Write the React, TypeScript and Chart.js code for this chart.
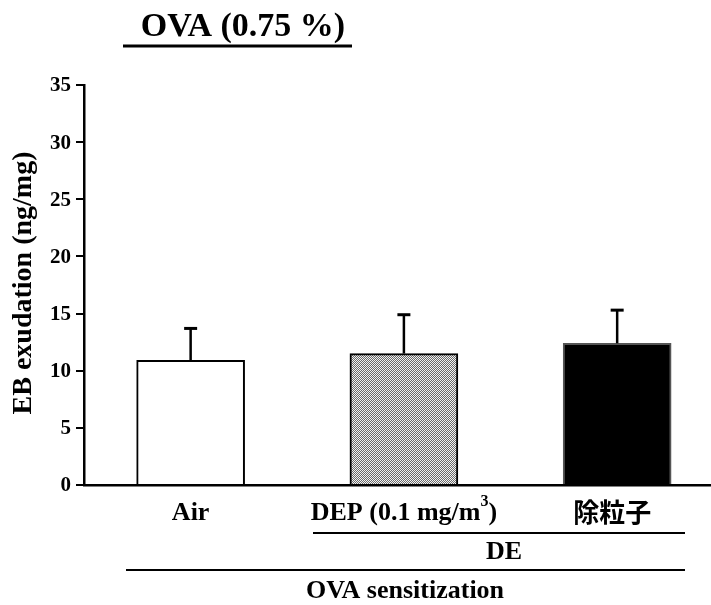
import React, { useEffect, useRef } from "react";
import { Chart, registerables } from "chart.js";

Chart.register(...registerables);

const categories = ["Air", "DEP (0.1 mg/m", "除粒子"];
const positions = [0, 1, 2];
const means = [10.9, 11.5, 12.4];
const sems = [2.8, 3.4, 2.9];
const yTicks = [0, 5, 10, 15, 20, 25, 30, 35];

const SERIF = '"Liberation Serif", "Times New Roman", serif';
const CJK = '"Noto Sans CJK JP", "Noto Sans CJK SC", sans-serif';

function makeHatch(): CanvasPattern | string {
  const c = document.createElement("canvas");
  c.width = 4;
  c.height = 4;
  const g = c.getContext("2d");
  if (!g) return "#aaaaaa";
  g.fillStyle = "#f2f2f2";
  g.fillRect(0, 0, 4, 4);
  g.fillStyle = "#6a6a6a";
  for (let i = 0; i < 4; i++) {
    g.fillRect(i, 3 - i, 1, 1);
    g.fillRect((i + 2) % 4, 3 - i, 1, 1);
  }
  const p = g.createPattern(c, "repeat");
  return p || "#aaaaaa";
}

function sText(
  ctx: CanvasRenderingContext2D,
  text: string,
  x: number,
  y: number,
  font: string,
  align: CanvasTextAlign
) {
  ctx.save();
  ctx.font = font;
  ctx.textAlign = align;
  ctx.textBaseline = "middle";
  ctx.fillText(text, x, y);
  ctx.restore();
}

const decorPlugin = {
  id: "decor",
  afterDatasetsDraw(chart: any) {
    const ctx = chart.ctx as CanvasRenderingContext2D;
    const xs = chart.scales.x;
    const ys = chart.scales.y;
    const area = chart.chartArea;
    ctx.save();
    ctx.strokeStyle = "#000";
    ctx.fillStyle = "#000";
    // error bars
    for (let i = 0; i < means.length; i++) {
      const x = xs.getPixelForValue(positions[i]);
      const yb = ys.getPixelForValue(means[i]);
      const yt = ys.getPixelForValue(means[i] + sems[i]);
      ctx.lineWidth = 2.5;
      ctx.beginPath();
      ctx.moveTo(x, yb);
      ctx.lineTo(x, yt);
      ctx.stroke();
      ctx.lineWidth = 3;
      ctx.beginPath();
      ctx.moveTo(x - 6.5, yt);
      ctx.lineTo(x + 6.5, yt);
      ctx.stroke();
    }
    // y tick labels
    for (const v of yTicks) {
      sText(ctx, String(v), 71, ys.getPixelForValue(v) + 1, "bold 21px " + SERIF, "right");
    }
    // title
    sText(ctx, "OVA (0.75 %)", 243, 27, "bold 34px " + SERIF, "center");
    ctx.lineWidth = 3;
    ctx.beginPath();
    ctx.moveTo(123, 46);
    ctx.lineTo(352, 46);
    ctx.stroke();
    // y title
    ctx.save();
    ctx.translate(24, 283);
    ctx.rotate(-Math.PI / 2);
    sText(ctx, "EB exudation (ng/mg)", 0, 0, "bold 28px " + SERIF, "center");
    ctx.restore();
    // x labels
    const ly = area.bottom + 28;
    const F = "bold 26px " + SERIF;
    const FS = "bold 16px " + SERIF;
    sText(ctx, categories[0], xs.getPixelForValue(positions[0]), ly, F, "center");
    // DEP with superscript
    const main = categories[1];
    ctx.font = F;
    const wMain = ctx.measureText(main).width;
    const wClose = ctx.measureText(")").width;
    ctx.font = FS;
    const wSup = ctx.measureText("3").width;
    const total = wMain + wSup + wClose;
    let sx = xs.getPixelForValue(positions[1]) - total / 2;
    sText(ctx, main, sx, ly, F, "left");
    sx += wMain;
    sText(ctx, "3", sx, ly - 11, FS, "left");
    sx += wSup;
    sText(ctx, ")", sx, ly, F, "left");
    sText(ctx, categories[2], xs.getPixelForValue(positions[2]) - 5, ly - 1, "bold 26px " + CJK, "center");
    // group lines
    ctx.lineWidth = 2;
    ctx.beginPath();
    ctx.moveTo(313, area.bottom + 48);
    ctx.lineTo(685, area.bottom + 48);
    ctx.stroke();
    sText(ctx, "DE", 504, area.bottom + 67, F, "center");
    ctx.beginPath();
    ctx.moveTo(126, area.bottom + 85);
    ctx.lineTo(685, area.bottom + 85);
    ctx.stroke();
    sText(ctx, "OVA sensitization", 405, area.bottom + 106, F, "center");
    ctx.restore();
  },
};

export default function App() {
  const ref = useRef<HTMLCanvasElement | null>(null);
  useEffect(() => {
    if (!ref.current) return;
    const hatch = makeHatch();
    const chart = new Chart(ref.current, {
      type: "bar",
      data: {
        datasets: [
          {
            data: positions.map((p, i) => ({ x: p, y: means[i] })),
            backgroundColor: ["#ffffff", hatch as any, "#000000"],
            borderColor: ["#000000", "#000000", "#555555"],
            borderWidth: 2,
            borderSkipped: "bottom",
            barThickness: 108,
          },
        ],
      },
      options: {
        animation: false,
        responsive: false,
        layout: { padding: { top: 85, bottom: 120, left: 0, right: 0 } },
        plugins: {
          legend: { display: false },
          tooltip: { enabled: false },
          title: { display: false },
        },
        scales: {
          x: {
            type: "linear",
            offset: false,
            min: -0.5,
            max: 2.44,
            ticks: { display: false },
            grid: { display: false },
            border: { display: true, width: 2.5, color: "#000" },
            afterFit: (s: any) => {
              s.height = 0;
            },
          },
          y: {
            min: 0,
            max: 35,
            afterBuildTicks: (s: any) => {
              s.ticks = yTicks.map((v) => ({ value: v }));
            },
            ticks: {
              color: "rgba(0,0,0,0)",
              padding: 4,
              font: { family: SERIF, size: 17, weight: "bold" },
            },
            grid: {
              drawOnChartArea: false,
              drawTicks: true,
              tickLength: 8,
              color: "#000",
              lineWidth: 2,
            },
            border: { display: true, width: 2.5, color: "#000" },
            afterFit: (s: any) => {
              s.width = 84;
            },
          },
        },
      },
      plugins: [decorPlugin],
    });
    return () => chart.destroy();
  }, []);
  return (
    <div style={{ position: "fixed", left: 0, top: 0, width: 711, height: 605, background: "#fff" }}>
      <canvas ref={ref} width={711} height={605} />
    </div>
  );
}
